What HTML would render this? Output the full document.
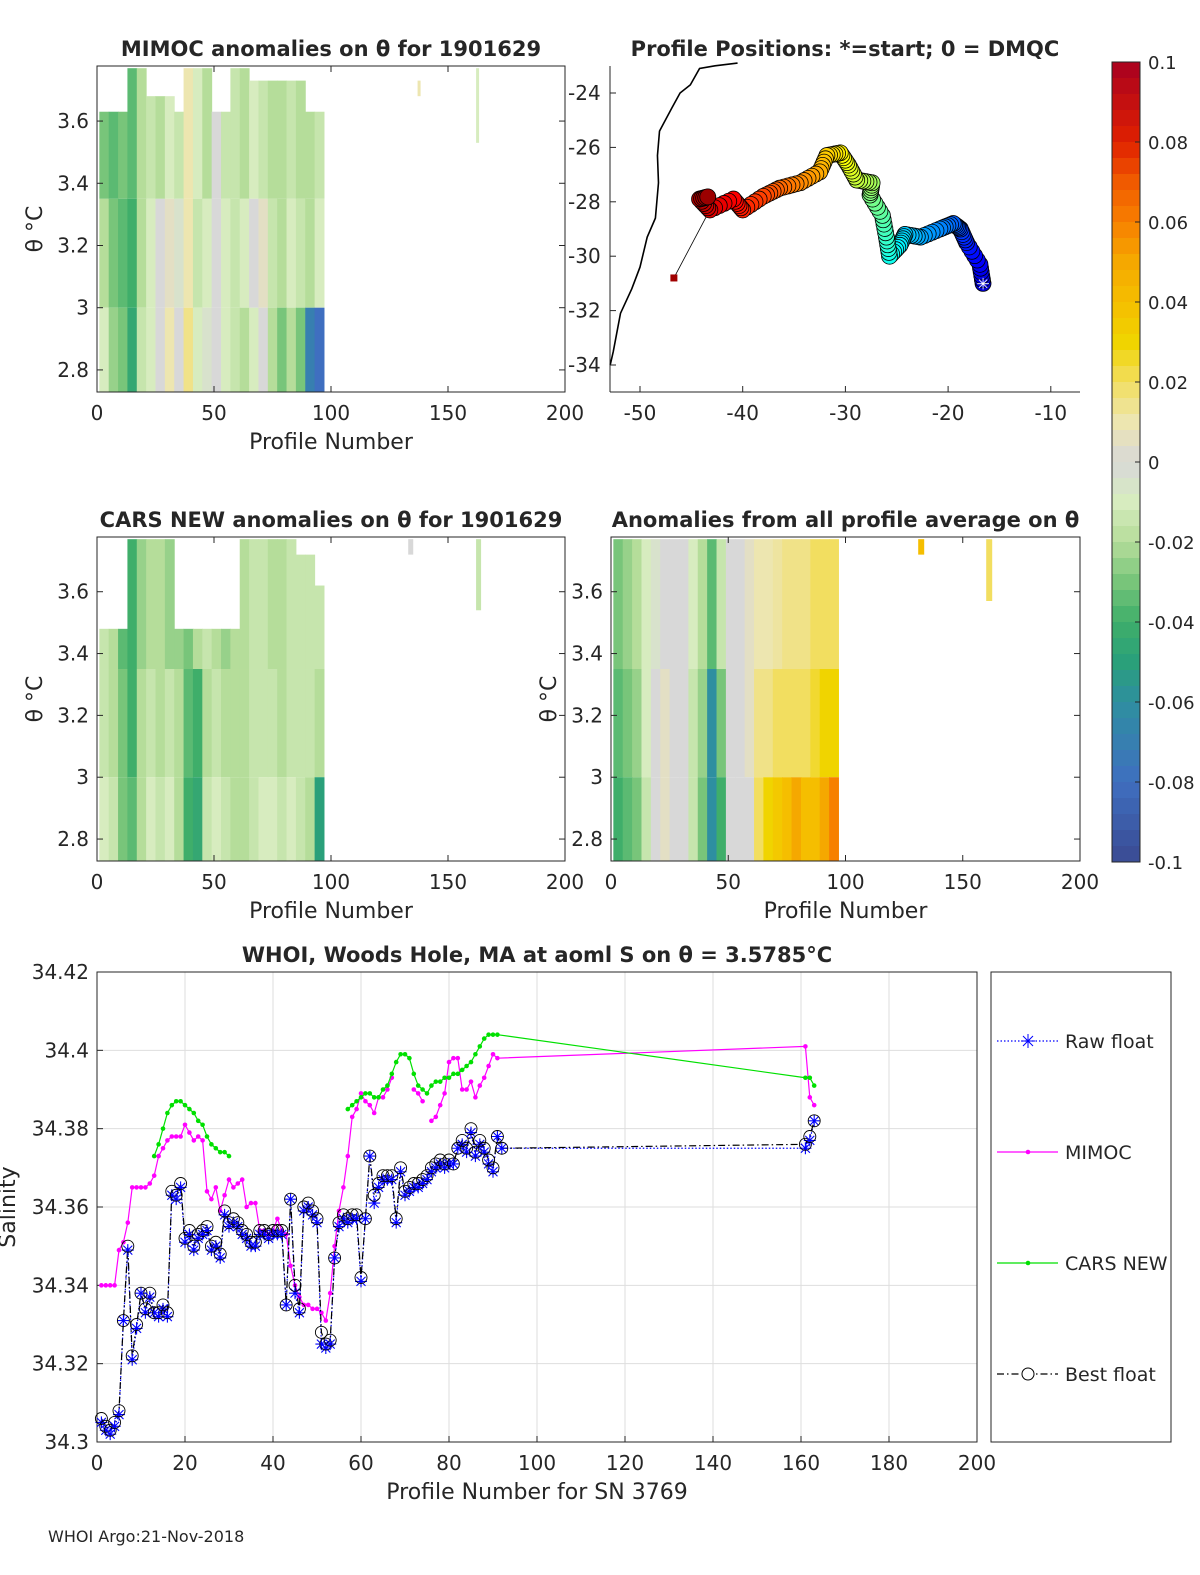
<!DOCTYPE html>
<html><head><meta charset="utf-8">
<style>
html,body{margin:0;padding:0;background:#fff;overflow:hidden;width:1200px;height:1575px;}
svg{display:block;}
svg text{font-family:"DejaVu Sans","Liberation Sans",sans-serif;fill:#262626;}
</style></head>
<body>
<svg id="fig" width="1200" height="1575" viewBox="0 0 1200 1575" xmlns="http://www.w3.org/2000/svg">
<rect width="1200" height="1575" fill="#fff"/>
<g id="p1"></g>
<g id="p2"></g>
<g id="p3"></g>
<g id="p4"></g>
<g id="cb"></g>
<g id="p5"></g>
<text x="48" y="1542" font-size="16">WHOI Argo:21-Nov-2018</text>
</svg>
<script>
// ---------- data ----------
const binStarts = [0,4,8,12,16,20,24,28,32,36,40,44,48,52,56,60,64,68,72,76,80,84,88,92];
const mimocUpper = [-0.03,-0.035,-0.03,-0.035,-0.02,-0.015,-0.02,-0.01,-0.015,0.01,-0.01,-0.02,0.0,-0.015,-0.015,-0.02,-0.01,-0.015,-0.02,-0.02,-0.015,-0.02,-0.02,-0.015];
const mimocMid = [-0.02,-0.03,-0.035,-0.04,-0.02,-0.01,0.0,0.005,-0.005,0.01,-0.015,-0.01,0.0,-0.01,-0.015,-0.01,0.0,0.005,-0.015,-0.02,-0.01,-0.015,-0.02,-0.01];
const mimocLower = [-0.01,-0.025,-0.03,-0.045,-0.015,-0.01,0.0,0.01,0.0,0.015,-0.01,-0.005,0.0,-0.01,-0.015,-0.02,-0.01,0.0,-0.02,-0.03,-0.02,-0.03,-0.07,-0.08];
const mimocTop = [3.63,3.63,3.63,3.77,3.77,3.68,3.68,3.68,3.63,3.77,3.77,3.77,3.63,3.63,3.77,3.77,3.73,3.73,3.73,3.73,3.73,3.73,3.63,3.63];
const carsUpper = [-0.015,-0.02,-0.035,-0.04,-0.025,-0.02,-0.02,-0.025,-0.025,-0.03,-0.02,-0.015,-0.02,-0.025,-0.02,-0.02,-0.015,-0.015,-0.02,-0.02,-0.015,-0.015,-0.015,-0.015];
const carsMid = [-0.015,-0.02,-0.03,-0.04,-0.02,-0.015,-0.02,-0.015,-0.02,-0.035,-0.04,-0.02,-0.015,-0.02,-0.02,-0.02,-0.015,-0.015,-0.015,-0.02,-0.015,-0.015,-0.015,-0.02];
const carsLower = [-0.01,-0.015,-0.03,-0.035,-0.02,-0.01,-0.015,-0.01,-0.02,-0.04,-0.045,-0.015,-0.01,-0.015,-0.02,-0.02,-0.015,-0.01,-0.01,-0.015,-0.01,-0.015,-0.02,-0.05];
const carsTop = [3.48,3.48,3.48,3.77,3.77,3.77,3.77,3.77,3.48,3.48,3.48,3.48,3.48,3.48,3.48,3.77,3.77,3.77,3.77,3.77,3.77,3.72,3.72,3.62];
const avgUpper = [-0.03,-0.025,-0.02,-0.01,-0.005,0.0,0.0,0.0,-0.01,-0.02,-0.035,-0.015,0.0,0.0,0.005,0.01,0.01,0.012,0.015,0.015,0.015,0.02,0.02,0.02];
const avgMid = [-0.035,-0.03,-0.025,-0.01,0.0,0.005,0.0,0.0,-0.015,-0.025,-0.06,-0.03,0.0,0.0,0.005,0.015,0.015,0.02,0.02,0.02,0.02,0.025,0.03,0.03];
const avgLower = [-0.04,-0.035,-0.03,-0.015,0.0,0.005,0.0,0.0,-0.015,-0.03,-0.06,-0.04,0.0,0.0,0.0,0.02,0.03,0.035,0.04,0.05,0.04,0.04,0.05,0.06];
const avgTop = [3.77,3.77,3.77,3.77,3.77,3.77,3.77,3.77,3.77,3.77,3.77,3.77,3.77,3.77,3.77,3.77,3.77,3.77,3.77,3.77,3.77,3.77,3.77,3.77];

const trackLon = [-16.6,-16.9,-18.2,-18.8,-19.5,-20.8,-22.7,-24.2,-24.7,-25.7,-26.0,-26.4,-27.6,-27.4,-28.9,-29.7,-30.5,-31.8,-32.5,-34.4,-36.4,-38.0,-40.0,-40.9,-43.2,-44.2,-43.2];
const trackLat = [-31.0,-30.3,-29.5,-29.0,-28.8,-29.0,-29.3,-29.2,-29.6,-30.0,-29.3,-28.5,-27.75,-27.3,-27.2,-26.65,-26.2,-26.3,-26.9,-27.3,-27.5,-27.8,-28.3,-27.9,-28.3,-27.9,-27.8];
const lastLon = -46.7, lastLat = -30.8;
const coastLon = [-40.5,-42.7,-44.2,-45.1,-46.1,-46.9,-48.1,-48.3,-48.2,-48.5,-49.3,-50.0,-50.8,-51.9,-52.6,-52.9];
const coastLat = [-22.9,-23.0,-23.1,-23.7,-24.0,-24.55,-25.4,-26.3,-27.3,-28.6,-29.3,-30.4,-31.2,-32.1,-33.5,-34.0];

const bestProf = [1,2,3,4,5,6,7,8,9,10,11,12,13,14,15,16,17,18,19,20,21,22,23,24,25,26,27,28,29,30,31,32,33,34,35,36,37,38,39,40,41,42,43,44,45,46,47,48,49,50,51,52,53,54,55,56,57,58,59,60,61,62,63,64,65,66,67,68,69,70,71,72,73,74,75,76,77,78,79,80,81,82,83,84,85,86,87,88,89,90,91,92,161,162,163];
const bestS = [34.306,34.304,34.303,34.305,34.308,34.331,34.350,34.322,34.330,34.338,34.334,34.338,34.333,34.333,34.335,34.333,34.364,34.363,34.366,34.352,34.354,34.350,34.353,34.354,34.355,34.350,34.351,34.348,34.359,34.356,34.357,34.356,34.354,34.353,34.351,34.351,34.354,34.354,34.353,34.354,34.354,34.354,34.335,34.362,34.340,34.334,34.360,34.361,34.359,34.357,34.328,34.325,34.326,34.347,34.356,34.358,34.357,34.358,34.358,34.342,34.357,34.373,34.363,34.366,34.368,34.368,34.368,34.357,34.370,34.364,34.365,34.366,34.366,34.367,34.368,34.370,34.371,34.372,34.371,34.372,34.371,34.375,34.377,34.375,34.380,34.374,34.377,34.375,34.372,34.370,34.378,34.375,34.376,34.378,34.382];
const rawS = [34.305,34.303,34.302,34.304,34.307,34.331,34.349,34.321,34.329,34.338,34.333,34.337,34.333,34.332,34.334,34.332,34.363,34.362,34.365,34.351,34.353,34.349,34.352,34.353,34.354,34.349,34.350,34.347,34.358,34.355,34.356,34.355,34.353,34.352,34.350,34.350,34.353,34.353,34.352,34.353,34.353,34.353,34.335,34.362,34.338,34.333,34.359,34.360,34.358,34.356,34.325,34.324,34.325,34.347,34.355,34.357,34.356,34.357,34.357,34.341,34.357,34.373,34.361,34.365,34.367,34.367,34.367,34.356,34.369,34.363,34.364,34.365,34.365,34.366,34.367,34.369,34.370,34.371,34.370,34.371,34.371,34.375,34.376,34.374,34.379,34.373,34.376,34.374,34.371,34.369,34.378,34.375,34.375,34.377,34.382];
const mimocProf = [1,2,3,4,5,6,7,8,9,10,11,12,13,14,15,16,17,18,19,20,21,22,23,24,25,26,27,28,29,30,31,32,33,34,35,36,37,38,39,40,41,42,43,44,45,46,47,48,49,50,51,52,53,54,55,56,57,58,59,60,61,62,63,64,65,66,67,null,72,73,74,null,76,77,78,79,80,81,82,83,84,85,86,87,88,89,90,91,161,162,163];
const mimocS = [34.340,34.340,34.340,34.340,34.349,34.351,34.356,34.365,34.365,34.365,34.365,34.366,34.368,34.373,34.375,34.377,34.378,34.378,34.378,34.381,34.379,34.377,34.378,34.377,34.364,34.362,34.365,34.359,34.363,34.367,34.365,34.366,34.367,34.360,34.361,34.361,34.354,34.354,34.353,34.354,34.357,34.354,34.353,34.345,34.340,34.337,34.335,34.335,34.334,34.334,34.333,34.331,34.338,34.350,34.359,34.365,34.373,34.383,34.385,34.389,34.387,34.386,34.384,34.388,34.388,34.390,34.393,null,34.390,34.389,34.387,null,34.382,34.383,34.386,34.389,34.397,34.398,34.398,34.390,34.390,34.392,34.388,34.391,34.393,34.396,34.399,34.398,34.401,34.388,34.386];
const carsProf = [13,14,15,16,17,18,19,20,21,22,23,24,25,26,27,28,29,30,null,57,58,59,60,61,62,63,64,65,66,67,68,69,70,71,72,73,74,75,76,77,78,79,80,81,82,83,84,85,86,87,88,89,90,91,161,162,163];
const carsS = [34.373,34.376,34.380,34.384,34.386,34.387,34.387,34.386,34.385,34.384,34.382,34.381,34.378,34.376,34.375,34.374,34.374,34.373,null,34.385,34.386,34.387,34.388,34.389,34.389,34.388,34.388,34.390,34.391,34.394,34.397,34.399,34.399,34.398,34.394,34.391,34.390,34.389,34.391,34.392,34.392,34.393,34.393,34.394,34.394,34.395,34.396,34.397,34.399,34.401,34.403,34.404,34.404,34.404,34.393,34.393,34.391];

const xTicks200 = [0,50,100,150,200];
const thetaTicks = [2.8,3,3.2,3.4,3.6];
const thetaLabels = ["2.8","3","3.2","3.4","3.6"];
const lonTicks = [-50,-40,-30,-20,-10];
const latTicks = [-24,-26,-28,-30,-32,-34];
const cbTicks = [0.1,0.08,0.06,0.04,0.02,0,-0.02,-0.04,-0.06,-0.08,-0.1];
const cbLabels = ["0.1","0.08","0.06","0.04","0.02","0","-0.02","-0.04","-0.06","-0.08","-0.1"];
const sTicks = [34.3,34.32,34.34,34.36,34.38,34.4,34.42];
const sLabels = ["34.3","34.32","34.34","34.36","34.38","34.4","34.42"];
const pTicks = [0,20,40,60,80,100,120,140,160,180,200];

// ---------- helpers ----------
const NS="http://www.w3.org/2000/svg";
function mk(parent,tag,attrs){const e=document.createElementNS(NS,tag);for(const k in attrs)e.setAttribute(k,attrs[k]);parent.appendChild(e);return e;}
function txt(parent,x,y,s,size,anchor,weight){const t=mk(parent,'text',{x:x,y:y,'font-size':size,'text-anchor':anchor||'middle','font-weight':weight||'normal'});t.textContent=s;return t;}
const cmapV=[-0.1,-0.08,-0.06,-0.05,-0.04,-0.03,-0.02,-0.01,0,0.01,0.02,0.03,0.04,0.05,0.06,0.07,0.08,0.1];
const cmapC=[[58,74,146],[63,111,192],[46,143,160],[42,160,122],[63,174,106],[120,197,122],[181,221,154],[215,236,191],[216,216,216],[237,230,176],[242,222,96],[240,212,0],[245,190,0],[245,168,0],[247,128,0],[240,90,0],[224,32,0],[168,0,32]];
function cmap(v){v=Math.max(-0.1,Math.min(0.1,v));for(let i=0;i<cmapV.length-1;i++){if(v<=cmapV[i+1]){const f=(v-cmapV[i])/(cmapV[i+1]-cmapV[i]);const c=cmapC[i].map((a,j)=>Math.round(a+(cmapC[i+1][j]-a)*f));return 'rgb('+c.join(',')+')';}}return 'rgb(168,0,32)';}
function jet(f){const r=Math.max(0,Math.min(1,1.5-Math.abs(4*f-3))),g=Math.max(0,Math.min(1,1.5-Math.abs(4*f-2))),b=Math.max(0,Math.min(1,1.5-Math.abs(4*f-1)));return 'rgb('+Math.round(r*255)+','+Math.round(g*255)+','+Math.round(b*255)+')';}

// ---------- heatmap panels ----------
function heatPanel(id,x0,x1,y0,y1,upper,midv,lower,top,title,yLabelX){
  const g=document.getElementById(id);
  const sx=p=>x0+(p/200)*(x1-x0);
  const tTop=3.777,tBot=2.729;
  const sy=t=>y0+(tTop-t)/(tTop-tBot)*(y1-y0);
  const m1=3.35,m2=3.0;
  for(let i=0;i<binStarts.length;i++){
    const a=sx(binStarts[i]+1),b=sx(binStarts[i]+5);
    const c1=mk(g,'rect',{x:a,y:sy(top[i]),width:b-a+0.5,height:sy(m1)-sy(top[i]),fill:cmap(upper[i])});
    
    
    const c2=mk(g,'rect',{x:a,y:sy(m1),width:b-a+0.5,height:sy(m2)-sy(m1),fill:cmap(midv[i])});
    
    
    const c3=mk(g,'rect',{x:a,y:sy(m2),width:b-a+0.5,height:y1-sy(m2),fill:cmap(lower[i])});
    
    
  }
  const fr=mk(g,'rect',{x:x0,y:y0,width:x1-x0,height:y1-y0,fill:'none',stroke:'#262626','stroke-width':1});
  
  
  xTicks200.forEach(v=>{mk(g,'line',{x1:sx(v),x2:sx(v),y1:y1,y2:y1-6,stroke:'#262626'});mk(g,'line',{x1:sx(v),x2:sx(v),y1:y0,y2:y0+6,stroke:'#262626'});
    const t=txt(g,sx(v),y1+28,String(v),20);});
  thetaTicks.forEach((v,i)=>{mk(g,'line',{x1:x0,x2:x0+6,y1:sy(v),y2:sy(v),stroke:'#262626'});mk(g,'line',{x1:x1,x2:x1-6,y1:sy(v),y2:sy(v),stroke:'#262626'});
    const t=txt(g,x0-8,sy(v)+7,thetaLabels[i],20,'end');});
  const xl=txt(g,(x0+x1)/2,y1+57,'Profile Number',22);
  if(yLabelX){const yl=txt(g,0,0,'θ °C',22);yl.setAttribute('transform','translate('+yLabelX+','+((y0+y1)/2)+') rotate(-90)');}
  const tt=txt(g,(x0+x1)/2,y0-10,title,21,'middle','bold');
  return {sx,sy,g};
}
const h1=heatPanel('p1',97,565,66,392,mimocUpper,mimocMid,mimocLower,mimocTop,'MIMOC anomalies on θ  for 1901629',42);
[[137,3.73,3.68,0.01],[162,3.77,3.53,-0.01]].forEach(c=>{const r=mk(h1.g,'rect',{x:h1.sx(c[0]),y:h1.sy(c[1]),width:3,height:h1.sy(c[2])-h1.sy(c[1]),fill:cmap(c[3])});});
const h3=heatPanel('p3',97,565,537,861,carsUpper,carsMid,carsLower,carsTop,'CARS NEW anomalies on θ for 1901629',42);
[[133,3.77,3.72,0.0],[162,3.77,3.54,-0.015]].forEach(c=>{const r=mk(h3.g,'rect',{x:h3.sx(c[0]),y:h3.sy(c[1]),width:5,height:h3.sy(c[2])-h3.sy(c[1]),fill:cmap(c[3])});});
const h4=heatPanel('p4',611,1080,537,861,avgUpper,avgMid,avgLower,avgTop,'Anomalies from all profile average on θ',556);
[[131,3.77,3.72,0.04],[160,3.77,3.57,0.02]].forEach(c=>{const r=mk(h4.g,'rect',{x:h4.sx(c[0]),y:h4.sy(c[1]),width:6,height:h4.sy(c[2])-h4.sy(c[1]),fill:cmap(c[3])});});

// ---------- map ----------
(function(){
  const g=document.getElementById('p2');
  const x0=610,x1=1080,y0=66,y1=392;
  const sx=lon=>640+(lon+50)*10.27;
  const sy=lat=>93+(-24-lat)*27.2;
  mk(g,'line',{x1:x0,x2:x1,y1:y1,y2:y1,stroke:'#262626'});
  mk(g,'line',{x1:x0,x2:x0,y1:y0,y2:y1,stroke:'#262626'});
  const cp=mk(g,'polyline',{points:coastLon.map((v,i)=>sx(v)+','+sy(coastLat[i])).join(' '),fill:'none',stroke:'#000','stroke-width':1.6});
  
  
  const n=trackLon.length;
  const tl=mk(g,'line',{x1:sx(trackLon[n-3]),y1:sy(trackLat[n-3]),x2:sx(lastLon),y2:sy(lastLat),stroke:'#000','stroke-width':0.8});
  
  
  for(let i=0;i<n-1;i++){
    const steps=5;
    for(let k=0;k<steps;k++){
      const f=k/steps;const lon=trackLon[i]+(trackLon[i+1]-trackLon[i])*f,lat=trackLat[i]+(trackLat[i+1]-trackLat[i])*f;
      const c=mk(g,'circle',{cx:sx(lon),cy:sy(lat),r:8,fill:jet(0.08+0.9*(i+f)/(n-1)),stroke:'#000','stroke-width':0.8});
      
      
    }
  }
  const sq=mk(g,'rect',{x:sx(lastLon)-3.5,y:sy(lastLat)-3.5,width:7,height:7,fill:'#a00000'});
  
  
  const st=txt(g,sx(trackLon[0]),sy(trackLat[0])+6,'✳',16,'middle');st.setAttribute('style','fill:#fff');
  
  
  lonTicks.forEach(v=>{mk(g,'line',{x1:sx(v),x2:sx(v),y1:y1,y2:y1-6,stroke:'#262626'});const t=txt(g,sx(v),y1+28,String(v),20);});
  latTicks.forEach(v=>{mk(g,'line',{x1:x0,x2:x0+6,y1:sy(v),y2:sy(v),stroke:'#262626'});const t=txt(g,x0-42,sy(v)+7,String(v),20,'start');});
  const tt=txt(g,845,56,'Profile Positions: *=start; 0 = DMQC',21,'middle','bold');
})();

// ---------- colorbar ----------
(function(){
  const g=document.getElementById('cb');
  const x0=1112,w=28,y0=62,y1=862;
  const sy=v=>y0+(0.1-v)/0.2*(y1-y0);
  const nb=50;
  for(let i=0;i<nb;i++){const v=0.1-(i+0.5)*0.2/nb;const r=mk(g,'rect',{x:x0,y:sy(0.1-i*0.2/nb),width:w,height:(y1-y0)/nb+0.5,fill:cmap(v)});}
  mk(g,'rect',{x:x0,y:y0,width:w,height:y1-y0,fill:'none',stroke:'#262626'});
  cbTicks.forEach((v,i)=>{mk(g,'line',{x1:x0+w,x2:x0+w-5,y1:sy(v),y2:sy(v),stroke:'#262626'});const t=txt(g,x0+w+8,sy(v)+7,cbLabels[i],18,'start');});
})();

// ---------- salinity panel ----------
(function(){
  const g=document.getElementById('p5');
  const x0=97,x1=977,y0=972,y1=1442;
  const sx=p=>x0+p/200*(x1-x0);
  const sy=s=>y1-(s-34.3)/0.12*(y1-y0);
  pTicks.forEach(v=>{mk(g,'line',{x1:sx(v),x2:sx(v),y1:y0,y2:y1,stroke:'#dedede'});});
  sTicks.forEach(v=>{mk(g,'line',{x1:x0,x2:x1,y1:sy(v),y2:sy(v),stroke:'#dedede'});});
  mk(g,'rect',{x:x0,y:y0,width:x1-x0,height:y1-y0,fill:'none',stroke:'#262626'});
  pTicks.forEach(v=>{mk(g,'line',{x1:sx(v),x2:sx(v),y1:y1,y2:y1-6,stroke:'#262626'});const t=txt(g,sx(v),y1+28,String(v),20);});
  sTicks.forEach((v,i)=>{mk(g,'line',{x1:x0,x2:x0+6,y1:sy(v),y2:sy(v),stroke:'#262626'});const t=txt(g,x0-8,sy(v)+7,sLabels[i],20,'end');});
  function segs(px,py){const out=[];let cur=[];px.forEach((p,i)=>{if(p===null||py[i]===null){if(cur.length)out.push(cur);cur=[];}else cur.push([sx(p),sy(py[i])]);});if(cur.length)out.push(cur);return out;}
  function line(px,py,color,dash,name){segs(px,py).forEach(s=>{const l=mk(g,'polyline',{points:s.map(q=>q.join(',')).join(' '),fill:'none',stroke:color,'stroke-width':1.2,'stroke-dasharray':dash||'none'});});}
  line(mimocProf,mimocS,'#ff00ff',null,'mimoc-line');
  mimocProf.forEach((p,i)=>{if(p===null)return;const c=mk(g,'circle',{cx:sx(p),cy:sy(mimocS[i]),r:2.3,fill:'#ff00ff'});});
  line(carsProf,carsS,'#00e000',null,'cars-line');
  carsProf.forEach((p,i)=>{if(p===null)return;const c=mk(g,'circle',{cx:sx(p),cy:sy(carsS[i]),r:2.3,fill:'#00e000'});});
  line(bestProf,rawS,'#0000ff','1.5,2','raw-float-line');
  line(bestProf,bestS,'#000','7,3,1.5,3','best-float-line');
  bestProf.forEach((p,i)=>{
    const x=sx(p),y=sy(rawS[i]);
    const a=mk(g,'path',{d:`M${x-6},${y}H${x+6}M${x},${y-6}V${y+6}M${x-4.5},${y-4.5}L${x+4.5},${y+4.5}M${x-4.5},${y+4.5}L${x+4.5},${y-4.5}`,stroke:'#0000ff','stroke-width':1.1});
    
    
    const c=mk(g,'circle',{cx:x,cy:sy(bestS[i]),r:6,fill:'none',stroke:'#000','stroke-width':0.9});
    
    
  });
  const xl=txt(g,(x0+x1)/2,y1+57,'Profile Number for SN 3769',22);
  const yl=txt(g,0,0,'Salinity',22);yl.setAttribute('transform','translate(15,'+((y0+y1)/2)+') rotate(-90)');
  const tt=txt(g,(x0+x1)/2,962,'WHOI, Woods Hole, MA at aoml S on θ = 3.5785°C',21,'middle','bold');
  const lg=mk(g,'g',{});
  
  
  mk(lg,'rect',{x:991,y:972,width:180,height:470,fill:'#fff',stroke:'#262626'});
  const items=[['Raw float',1041,'#0000ff','1.5,2'],['MIMOC',1152,'#ff00ff','none'],['CARS NEW',1263,'#00e000','none'],['Best float',1374,'#000','7,3,1.5,3']];
  items.forEach((it,i)=>{
    const e=mk(lg,'g',{});
    
    
    mk(e,'line',{x1:997,x2:1058,y1:it[1],y2:it[1],stroke:it[2],'stroke-width':1.2,'stroke-dasharray':it[3]});
    if(i===0) mk(e,'path',{d:`M1021,${it[1]}h14M1028,${it[1]-7}v14M1023,${it[1]-5}l10,10M1023,${it[1]+5}l10,-10`,stroke:'#0000ff'});
    if(i===1||i===2) mk(e,'circle',{cx:1028,cy:it[1],r:2.3,fill:it[2]});
    if(i===3) mk(e,'circle',{cx:1028,cy:it[1],r:6,fill:'#fff',stroke:'#000'});
    txt(e,1065,it[1]+7,it[0],19,'start');
  });
})();
</script>
</body></html>
